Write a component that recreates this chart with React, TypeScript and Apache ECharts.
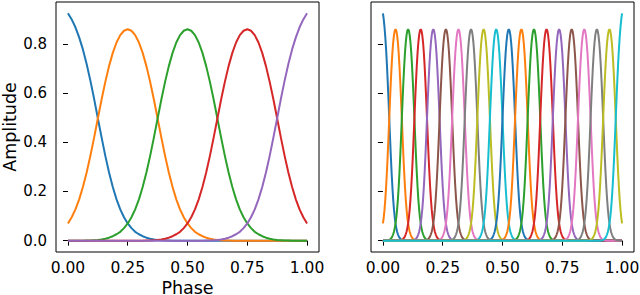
import React, { useEffect, useRef } from "react";
import * as echarts from "echarts";

// tab10 colour cycle
const palette = [
  "#1f77b4", "#ff7f0e", "#2ca02c", "#d62728", "#9467bd",
  "#8c564b", "#e377c2", "#7f7f7f", "#bcbd22", "#17becf",
];

// bump centres (phase) for each panel
const leftCenters = [0, 0.25, 0.5, 0.75, 1.0];
const leftSpacing = 0.25;
const rightCenters = [
  0, 0.05263, 0.10526, 0.15789, 0.21053, 0.26316, 0.31579, 0.36842, 0.42105, 0.47368,
  0.52632, 0.57895, 0.63158, 0.68421, 0.73684, 0.78947, 0.84211, 0.89474, 0.94737, 1.0,
];
const rightSpacing = 0.05263;

// offsets from a bump centre, in units of the centre spacing
const offsets = [
  0, 0.0625, 0.125, 0.1875, 0.25, 0.3125, 0.375, 0.4375, 0.5, 0.5625, 0.625, 0.6875,
  0.75, 0.8125, 0.875, 0.9375, 1.0, 1.0625, 1.125, 1.1875, 1.25, 1.3125, 1.375, 1.4375,
  1.5, 1.5625, 1.625, 1.6875, 1.75, 1.8125, 1.875, 1.9375, 2.0,
];
// amplitude of an interior bump at each offset
const interiorProfile = [
  0.860, 0.854, 0.836, 0.806, 0.764, 0.710, 0.646, 0.574, 0.497, 0.419, 0.345, 0.277,
  0.218, 0.168, 0.127, 0.095, 0.070, 0.051, 0.036, 0.026, 0.018, 0.012, 0.008, 0.005,
  0.003, 0.002, 0.001, 0.001, 0.000, 0.000, 0.000, 0.000, 0.000,
];
// amplitude of an end bump (centre at phase 0 or 1), inward side
const edgeProfile = [
  0.925, 0.900, 0.868, 0.827, 0.778, 0.719, 0.651, 0.577, 0.498, 0.420, 0.345, 0.277,
  0.218, 0.168, 0.127, 0.095, 0.070, 0.051, 0.036, 0.026, 0.018, 0.012, 0.008, 0.005,
  0.003, 0.002, 0.001, 0.001, 0.000, 0.000, 0.000, 0.000, 0.000,
];

const xTicks = [0, 0.25, 0.5, 0.75, 1.0];
const yTicks = [0, 0.2, 0.4, 0.6, 0.8];
const xTitle = "Phase";
const yTitle = "Amplitude";

const FONT = "DejaVu Sans";

function bumpData(c: number, d: number, i: number, n: number): number[][] {
  const pts: number[][] = [];
  const eps = 1e-3;
  if (i === 0) {
    offsets.forEach((u, k) => pts.push([c + u * d, edgeProfile[k]]));
    pts.push([1, 0]);
    return pts;
  }
  if (i === n - 1) {
    pts.push([0, 0]);
    for (let k = offsets.length - 1; k >= 0; k--) pts.push([c - offsets[k] * d, edgeProfile[k]]);
    return pts;
  }
  for (let k = offsets.length - 1; k >= 1; k--) {
    const x = c - offsets[k] * d;
    if (x >= -eps) pts.push([Math.max(0, x), interiorProfile[k]]);
  }
  for (let k = 0; k < offsets.length; k++) {
    const x = c + offsets[k] * d;
    if (x <= 1 + eps) pts.push([Math.min(1, x), interiorProfile[k]]);
  }
  if (pts[0][0] > 0) pts.unshift([0, 0]);
  if (pts[pts.length - 1][0] < 1) pts.push([1, 0]);
  return pts;
}

export default function App() {
  const ref = useRef<HTMLDivElement>(null);
  useEffect(() => {
    if (!ref.current) return;
    const chart = echarts.init(ref.current, undefined, { renderer: "svg" });
    const mkX = (gi: number) => ({
      type: "value",
      gridIndex: gi,
      min: -0.05,
      max: 1.05,
      splitLine: { show: false },
      axisLine: { show: false },
      axisTick: { show: true, customValues: xTicks, length: 5, lineStyle: { color: "#000", width: 1 } },
      axisLabel: {
        show: true,
        customValues: xTicks,
        formatter: (v: number) => v.toFixed(2),
        fontFamily: FONT,
        fontSize: 15.5,
        color: "#000",
        margin: 8,
      },
    });
    const mkY = (gi: number, labels: boolean, name: string) => ({
      type: "value",
      gridIndex: gi,
      min: -0.0462,
      max: 0.9709,
      name,
      nameLocation: "middle",
      nameRotate: 90,
      nameGap: 37,
      nameTextStyle: { fontFamily: FONT, fontSize: 17.5, lineHeight: 17, color: "#000" },
      splitLine: { show: false },
      axisLine: { show: false },
      axisTick: { show: true, customValues: yTicks, length: 5, lineStyle: { color: "#000", width: 1 } },
      axisLabel: {
        show: labels,
        customValues: yTicks,
        formatter: (v: number) => v.toFixed(1),
        fontFamily: FONT,
        fontSize: 15,
        color: "#000",
        margin: 9,
      },
    });
    const series: any[] = [];
    leftCenters.forEach((c, i) => {
      series.push({
        type: "line",
        xAxisIndex: 0,
        yAxisIndex: 0,
        data: bumpData(c, leftSpacing, i, leftCenters.length),
        showSymbol: false,
        symbol: "none",
        lineStyle: { width: 2, color: palette[i % 10] },
        itemStyle: { color: palette[i % 10] },
        silent: true,
      });
    });
    rightCenters.forEach((c, i) => {
      series.push({
        type: "line",
        xAxisIndex: 1,
        yAxisIndex: 1,
        data: bumpData(c, rightSpacing, i, rightCenters.length),
        showSymbol: false,
        symbol: "none",
        lineStyle: { width: 2, color: palette[i % 10] },
        itemStyle: { color: palette[i % 10] },
        silent: true,
      });
    });
    const gridBase = {
      top: 2,
      width: 263,
      height: 250,
      show: true,
      borderColor: "#000",
      borderWidth: 1,
      backgroundColor: "transparent",
      containLabel: false,
      outerBoundsMode: "none",
    };
    chart.setOption({
      animation: false,
      backgroundColor: "#fff",
      grid: [
        { ...gridBase, left: 56 },
        { ...gridBase, left: 371 },
      ],
      xAxis: [mkX(0), mkX(1)],
      yAxis: [mkY(0, true, yTitle), mkY(1, false, "")],
      graphic: [
        {
          type: "text",
          x: 187.5,
          y: 287.5,
          silent: true,
          style: {
            text: xTitle,
            fontFamily: FONT,
            fontSize: 17.5,
            fill: "#000",
            textAlign: "center",
            textVerticalAlign: "middle",
          },
        },
      ],
      series,
    });
    return () => chart.dispose();
  }, []);
  return (
    <div
      ref={ref}
      style={{ position: "fixed", left: 0, top: 0, width: 640, height: 295, background: "#fff" }}
    />
  );
}
